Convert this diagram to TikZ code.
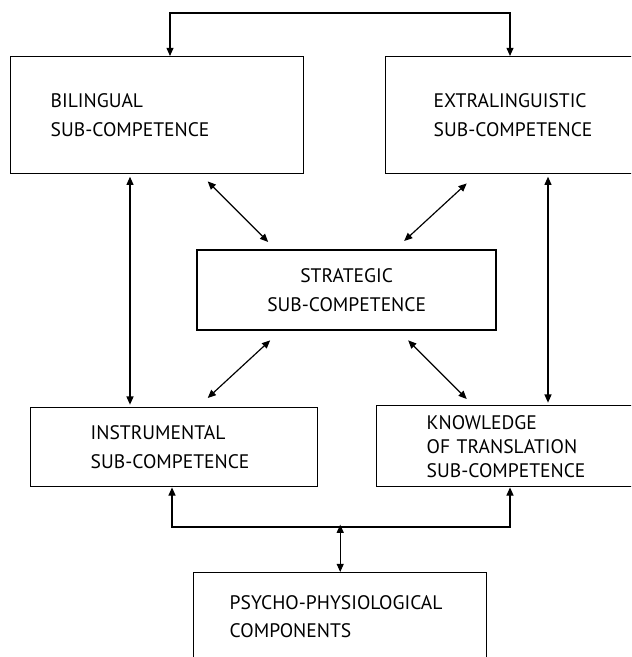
\documentclass[tikz,border=0pt]{standalone}
\usepackage{fontspec}
\setmainfont{PT Sans}
\usepackage{tikz}
\usetikzlibrary{arrows.meta, positioning, calc}

\tikzset{
  compbox/.style={draw, line width=1.2pt, anchor=north west, align=left, inner ysep=0pt,
    font=\fontsize{16.7}{24}\selectfont},
  link/.style={line width=1pt, {Triangle[length=7pt,width=6pt]}-{Triangle[length=7pt,width=6pt]}},
}

\begin{document}
\begin{tikzpicture}[x=0.03cm, y=-0.03cm]
  \useasboundingbox (0,0) rectangle (631,657);
  \clip (0,0) rectangle (631,657);
  % Top row
  \node[compbox, minimum height=3.51cm, inner xsep=1.2cm, text width=6.39cm] (bil) at (10,56) {BILINGUAL\\SUB-COMPETENCE};
  \node[compbox, minimum height=3.51cm, inner xsep=1.44cm, text width=5.07cm] (ext) at (385,56) {EXTRALINGUISTIC\\SUB-COMPETENCE};
  % Centre
  \node[compbox, line width=2pt, align=center, minimum height=2.4cm, inner xsep=0.5cm, text width=7.97cm] (strat) at (196,249) {STRATEGIC\\SUB-COMPETENCE};
  % Lower row
  \node[compbox, minimum height=2.37cm, inner xsep=1.8cm, text width=5.01cm] (instr) at (30,407) {INSTRUMENTAL\\SUB-COMPETENCE};
  \node[compbox, font=\fontsize{16.7}{20.5}\selectfont, minimum height=2.43cm, inner xsep=1.5cm, text width=5.22cm] (know) at (376,405) {KNOWLEDGE\\OF TRANSLATION\\SUB-COMPETENCE};
  % Bottom
  \node[compbox, minimum height=2.64cm, inner xsep=1.08cm, text width=6.63cm] (psy) at (193,572) {PSYCHO-PHYSIOLOGICAL\\COMPONENTS};

  % Bends of the connectors
  \coordinate (tL) at (170,13);
  \coordinate (tR) at (510,13);
  \coordinate (vL) at (130,0);
  \coordinate (vR) at (548,0);
  \coordinate (bL) at (172,527);
  \coordinate (bR) at (510,527);

  \draw[link] (tL |- bil.north) -- (tL) -- (tR) -- (tR |- ext.north);
  \draw[link] ([yshift=-2]vL |- bil.south) -- ([yshift=2]vL |- instr.north);
  \draw[link] ([yshift=-2]vR |- ext.south) -- ([yshift=2]vR |- know.north);
  \draw[link] ([shift={(50.5,7)}]bil.south) -- ([shift={(-78.5,-7)}]strat.north);
  \draw[link] ([shift={(-51.5,9)}]ext.south) -- ([shift={(57.5,-8)}]strat.north);
  \draw[link] ([shift={(-76.5,9)}]strat.south) -- ([shift={(33.5,-9)}]instr.north);
  \draw[link] ([shift={(61.5,9)}]strat.south) -- ([shift={(-47,-6)}]know.north);
  \draw[link] (bL |- instr.south) -- (bL) -- (bR) -- (bR |- know.south);
  \draw[link] (psy.north) -- ([yshift=2]psy.north |- bL);
\end{tikzpicture}
\end{document}
